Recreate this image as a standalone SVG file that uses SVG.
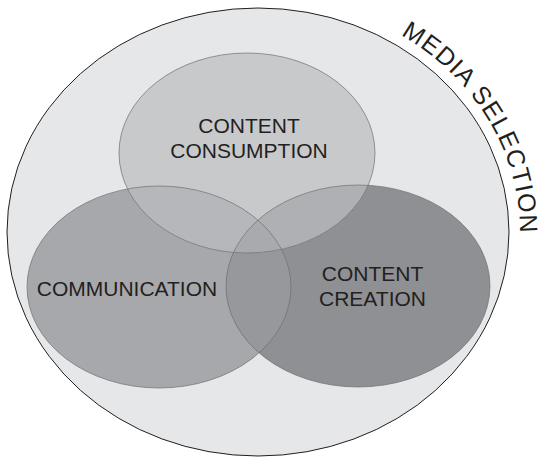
<svg xmlns="http://www.w3.org/2000/svg" width="538" height="463" viewBox="0 0 538 463">
<style>
.lbl{font-family:"Liberation Sans",Arial,sans-serif;font-size:21px;fill:#231f20;text-anchor:middle}
.out{fill:none;stroke:#6d6e71;stroke-width:0.7}
</style>
<defs>
<clipPath id="cComm"><ellipse cx="159" cy="287" rx="132" ry="101"/></clipPath>
<clipPath id="cCreat"><ellipse cx="358" cy="286" rx="132" ry="101"/></clipPath>
<path id="arc" d="M400.7,34.9 A262,235 0 0 1 511.1,292.8"/>
</defs>
<rect width="538" height="463" fill="#ffffff"/>
<g id="media-selection">
<ellipse cx="258" cy="232" rx="251" ry="224" fill="#e6e7e8" stroke="#231f20" stroke-width="1"/>
<text style="font-family:'Liberation Sans',Arial,sans-serif;font-size:25px;letter-spacing:1.1px;fill:#231f20"><textPath href="#arc">MEDIA SELECTION</textPath></text>
</g>
<g id="communication">
<ellipse cx="159" cy="287" rx="132" ry="101" fill="#a7a8ab"/>
</g>
<g id="content-creation">
<ellipse cx="358" cy="286" rx="132" ry="101" fill="#8f9093"/>
<ellipse cx="358" cy="286" rx="132" ry="101" fill="#97989b" clip-path="url(#cComm)"/>
</g>
<g id="content-consumption">
<ellipse cx="247" cy="153" rx="128" ry="100" fill="#c8c9cb"/>
<ellipse cx="247" cy="153" rx="128" ry="100" fill="#b6b7ba" clip-path="url(#cComm)"/>
<ellipse cx="247" cy="153" rx="128" ry="100" fill="#afb0b3" clip-path="url(#cCreat)"/>
<g clip-path="url(#cComm)"><ellipse cx="247" cy="153" rx="128" ry="100" fill="#a9aaad" clip-path="url(#cCreat)"/></g>
</g>
<g id="outlines">
<ellipse class="out" cx="159" cy="287" rx="132" ry="101"/>
<ellipse class="out" cx="358" cy="286" rx="132" ry="101"/>
<ellipse class="out" cx="247" cy="153" rx="128" ry="100"/>
</g>
<g id="labels">
<text class="lbl" x="249" y="133">CONTENT</text>
<text class="lbl" x="249" y="158">CONSUMPTION</text>
<text class="lbl" x="127" y="296">COMMUNICATION</text>
<text class="lbl" x="372.5" y="281">CONTENT</text>
<text class="lbl" x="372.5" y="306">CREATION</text>
</g>
</svg>
